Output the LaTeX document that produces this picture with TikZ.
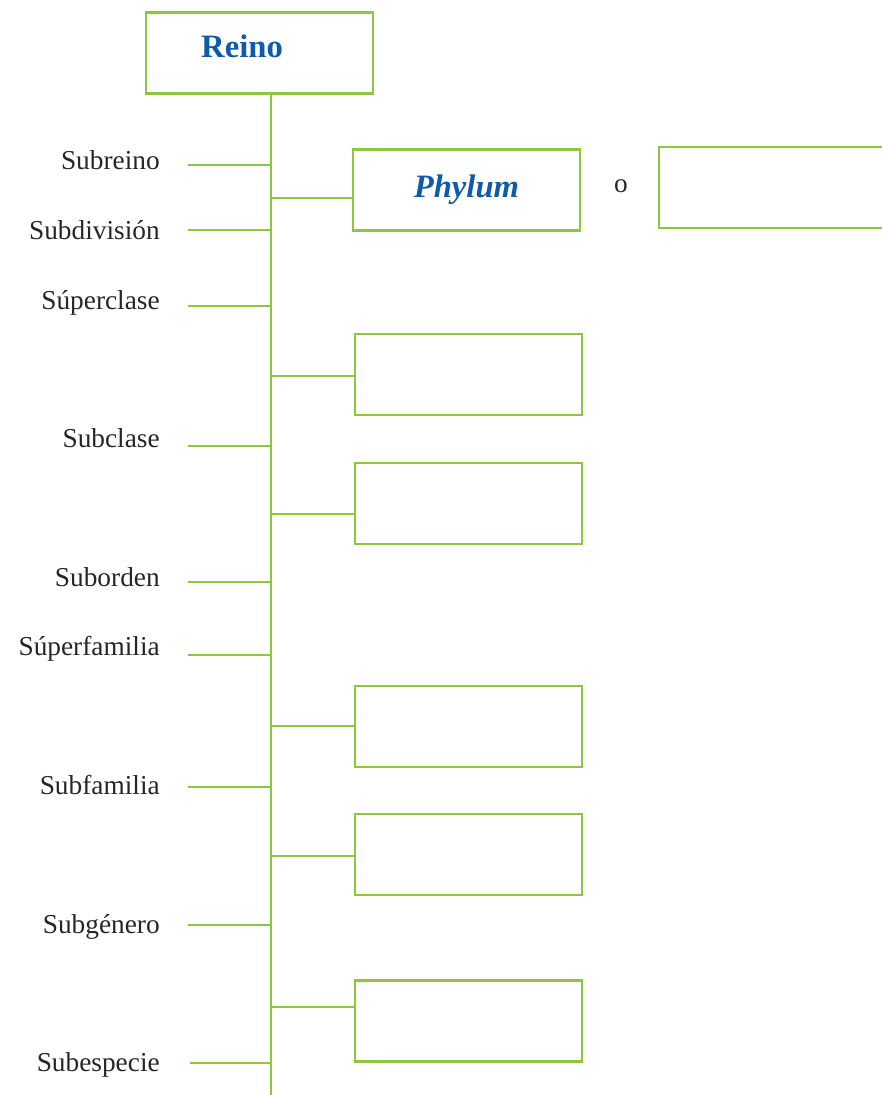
\documentclass[tikz,border=0pt]{standalone}
\usepackage{fontspec}
\setmainfont{Liberation Serif}
\definecolor{lgreen}{RGB}{141,198,63}
\definecolor{tblue}{RGB}{14,92,168}
\tikzset{
  box/.style={draw=lgreen, line width=2.2pt, minimum width=170.25pt, minimum height=60.75pt, inner sep=0pt, outer sep=0pt},
  link/.style={draw=lgreen, line width=2.2pt},
  lab/.style={anchor=base east, inner sep=0pt, font=\fontsize{20.5}{24}\selectfont, text=black!85},
  title/.style={text=tblue, font=\fontsize{24.5}{28}\selectfont\bfseries},
}
\begin{document}
\begin{tikzpicture}[x=0.75pt, y=-0.75pt]
\useasboundingbox (0,0) rectangle (881,1095);
% boxes
\node[box] (reino) at (259.5,53) {};
\node[title, anchor=base, inner sep=0pt] (reinotxt) at (242,58) {Reino};
\node[box, title] (phylum) at (466.5,190) {\itshape Phylum};
\node[anchor=base, inner sep=0pt, font=\fontsize{20.5}{24}\selectfont, text=black!85] (o) at (621,192) {o};
\node[box] (alt) at (772.5,187.5) {};
\node[box] (b2) at (468.5,374.5) {};
\node[box] (b3) at (468.5,503.5) {};
\node[box] (b4) at (468.5,726.5) {};
\node[box] (b5) at (468.5,854.5) {};
\node[box] (b6) at (468.5,1021) {};
% trunk
\coordinate (bot) at (271,1097);
\draw[link] (reino.south -| bot) -- (bot);
% junctions to boxes
\coordinate (j1) at (271,198);
\coordinate (j2) at (271,376);
\coordinate (j3) at (271,514);
\coordinate (j4) at (271,726);
\coordinate (j5) at (271,856);
\coordinate (j6) at (271,1007);
\draw[link] (j1) -- (j1 -| phylum.west);
\draw[link] (j2) -- (j2 -| b2.west);
\draw[link] (j3) -- (j3 -| b3.west);
\draw[link] (j4) -- (j4 -| b4.west);
\draw[link] (j5) -- (j5 -| b5.west);
\draw[link] (j6) -- (j6 -| b6.west);
% left ranks
\node[lab] (l1) at (160,170) {Subreino};
\node[lab] (l2) at (160,239) {Subdivisión};
\node[lab] (l3) at (160,309) {Súperclase};
\node[lab] (l4) at (160,447) {Subclase};
\node[lab] (l5) at (160,586) {Suborden};
\node[lab] (l6) at (160,655) {Súperfamilia};
\node[lab] (l7) at (160,794) {Subfamilia};
\node[lab] (l8) at (160,933) {Subgénero};
\node[lab] (l9) at (160,1071) {Subespecie};
\coordinate (t1) at (188,165);
\coordinate (t2) at (188,230);
\coordinate (t3) at (188,306);
\coordinate (t4) at (188,446);
\coordinate (t5) at (188,582);
\coordinate (t6) at (188,655);
\coordinate (t7) at (188,787);
\coordinate (t8) at (188,925);
\coordinate (t9) at (190,1063);
\foreach \t in {t1,t2,t3,t4,t5,t6,t7,t8,t9}
  \draw[link] (\t) -- (\t -| bot);
\end{tikzpicture}
\end{document}
